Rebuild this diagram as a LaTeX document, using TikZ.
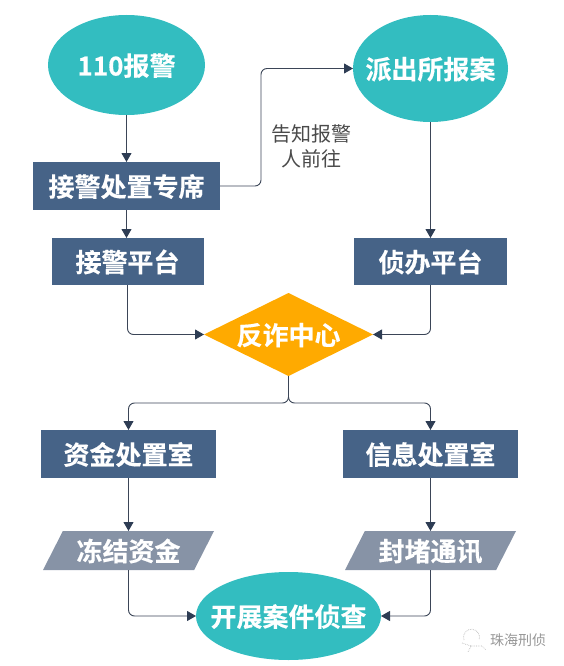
\documentclass[tikz,border=0pt]{standalone}
\usepackage{fontspec}
\setmainfont{Noto Sans CJK SC}[BoldFont={* Bold},BoldFeatures={FakeBold=0.35}]
\usetikzlibrary{arrows.meta,shapes.geometric}
\definecolor{teal1}{HTML}{33BDC0}
\definecolor{navy1}{HTML}{466387}
\definecolor{grey1}{HTML}{8793A6}
\definecolor{amber1}{HTML}{FFAA00}
\definecolor{line1}{HTML}{3B4557}
\definecolor{tip1}{HTML}{2E3D54}
\definecolor{label1}{HTML}{4A4A4A}
\definecolor{mark1}{HTML}{969696}
% text of a fixed small box, so that the shape keeps its given size; vertically centred
\newcommand{\lbltext}[1]{\makebox[4pt]{\raisebox{-10.5pt}[2pt][2pt]{#1}}}
\newcommand{\slanttext}[1]{\makebox[4pt]{\raisebox{-10.5pt}[19.5pt][19.5pt]{#1}}}
\tikzset{
  base/.style={inner sep=0pt,outer sep=0pt,text=white,font=\fontsize{26}{30}\selectfont\bfseries},
  oval/.style={base,ellipse,fill=teal1},
  boxn/.style={base,rectangle,fill=navy1,minimum height=48pt},
  slant/.style={base,trapezium,trapezium left angle=63,trapezium right angle=117,trapezium stretches body=true,fill=grey1,minimum width=171pt},
  flow/.style={draw=line1,line width=0.9pt,-{Triangle[width=10pt,length=9pt,color=tip1]}},
  bent/.style={flow,rounded corners=6pt},
}
\begin{document}
\begin{tikzpicture}[x=1pt,y=-1pt]
\useasboundingbox (0,0) rectangle (563,666);
\node[oval,minimum width=157pt,minimum height=100pt] (a) at (126.5,65) {\lbltext{110报警}};
\node[oval,minimum width=155pt,minimum height=107pt] (b) at (430.5,68.5) {\lbltext{派出所报案}};
\node[boxn,minimum width=187pt] (c) at (126.5,186) {\lbltext{接警处置专席}};
\node[boxn,minimum width=152pt,minimum height=47pt] (e) at (127.5,261.5) {\lbltext{接警平台}};
\node[boxn,minimum width=153pt,minimum height=47pt] (f) at (430.5,261.5) {\lbltext{侦办平台}};
\node[base,diamond,aspect=2.04,fill=amber1,minimum width=169pt,minimum height=83pt] (d) at (288.5,334.5) {\lbltext{反诈中心}};
\node[boxn,minimum width=175pt] (g) at (128.5,454) {\lbltext{资金处置室}};
\node[boxn,minimum width=175pt] (h) at (430.5,454) {\lbltext{信息处置室}};
\node[slant] (i) at (128.5,550.5) {\slanttext{冻结资金}};
\node[slant] (j) at (430.5,550.5) {\slanttext{封堵通讯}};
\node[oval,minimum width=185pt,minimum height=88pt] (k) at (288.5,616) {\lbltext{开展案件侦查}};
\node[align=center,text=label1,font=\fontsize{20}{25}\selectfont,inner sep=0pt] (t) at (311,146) {告知报警\\人前往};
\node[text=mark1,font=\fontsize{14}{16}\selectfont,inner sep=0pt] (w) at (518,640.5) {珠海刑侦};

\coordinate (up) at (261,68.5);
\coordinate (split) at (288.5,403);
\draw[flow] (a) -- (a |- c.north);
\draw[flow] (c) -- (c |- e.north);
\draw[bent] (c.east) -- (up |- c.east) -- (up) -- (b.west);
\draw[flow] (b) -- (f);
\draw[bent] (e.south) |- (d.west);
\draw[bent] (f.south) |- (d.east);
\draw[bent] (d.south) -- (split) -- (split -| g.north) -- (g.north);
\draw[bent] (d.south) -- (split) -- (split -| h.north) -- (h.north);
\draw[flow] (g) -- (i);
\draw[flow] (h) -- (j);
\draw[bent] (i.south) |- (k.west);
\draw[bent] (j.south) |- (k.east);

% watermark glyph
\draw[mark1!70,line width=0.7pt,densely dotted] (464,640) arc (200:-20:8pt) (462,643) -- (471,646) -- (468,652) (471,646) -- (482,646) -- (486,650);
\end{tikzpicture}
\end{document}
